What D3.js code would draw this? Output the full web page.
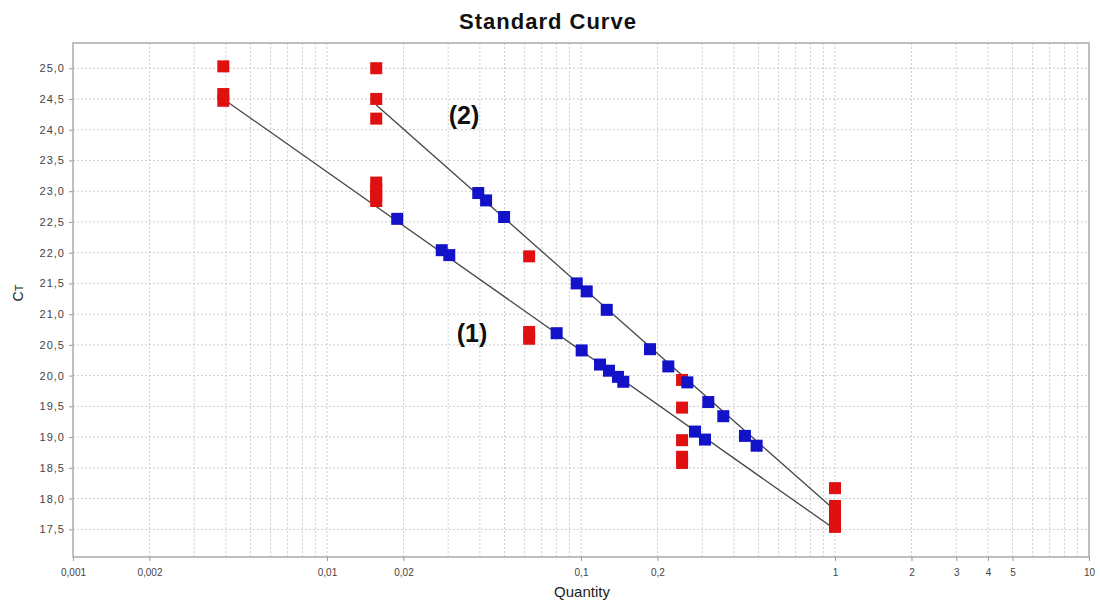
<!DOCTYPE html>
<html>
<head>
    <title>Standard Curve</title>
    <script src="https://d3js.org/d3.v7.min.js"></script>
    <style>
        body { margin: 0; background: #fff; }
        svg { font-family: "Liberation Sans", Arial, sans-serif; }
    </style>
</head>
<body>
    <svg id="chart"></svg>

    <script>
        // x axis ticks (log scale, comma decimals)
        const xTickValues = [0.001, 0.002, 0.01, 0.02, 0.1, 0.2, 1, 2, 3, 4, 5, 10];
        const xTickLabels = ["0,001", "0,002", "0,01", "0,02", "0,1", "0,2", "1", "2", "3", "4", "5", "10"];
        const yTickValues = [17.5, 18.0, 18.5, 19.0, 19.5, 20.0, 20.5, 21.0, 21.5, 22.0, 22.5, 23.0, 23.5, 24.0, 24.5, 25.0];

        // standards (red)
        const stdQty = [
            0.00390625, 0.00390625, 0.00390625,
            0.015625, 0.015625, 0.015625, 0.015625, 0.015625, 0.015625, 0.015625,
            0.0625, 0.0625, 0.0625,
            0.25, 0.25, 0.25, 0.25, 0.25,
            1, 1, 1, 1, 1
        ];
        const stdCt = [
            25.03, 24.58, 24.47,
            25.00, 24.50, 24.18, 23.14, 23.03, 22.93, 22.84,
            21.94, 20.71, 20.60,
            19.93, 19.48, 18.95, 18.68, 18.58,
            18.17, 17.88, 17.76, 17.65, 17.54
        ];

        // unknowns on curve (1) (blue)
        const set1Qty = [0.0189, 0.0283, 0.0303, 0.0802, 0.1006, 0.1188, 0.1289, 0.1398, 0.1467, 0.2811, 0.3077];
        const set1Ct  = [22.55, 22.04, 21.96, 20.69, 20.41, 20.18, 20.08, 19.98, 19.90, 19.09, 18.96];

        // unknowns on curve (2) (blue)
        const set2Qty = [0.0394, 0.0423, 0.0498, 0.0962, 0.1053, 0.1263, 0.1869, 0.2207, 0.2622, 0.3171, 0.3633, 0.4421, 0.4914];
        const set2Ct  = [22.97, 22.85, 22.58, 21.50, 21.37, 21.07, 20.43, 20.15, 19.89, 19.57, 19.34, 19.02, 18.86];

        // fitted lines, end points
        const fit1Qty = [0.00390625, 1];
        const fit1Ct  = [24.50, 17.50];
        const fit2Qty = [0.015625, 1];
        const fit2Ct  = [24.40, 17.81];

        const width = 1100, height = 603;
        const margin = { top: 43, right: 11, bottom: 46, left: 73 };

        const svg = d3.select("#chart").attr("width", width).attr("height", height);

        const x = d3.scaleLog()
            .domain([0.001, 10])
            .range([margin.left, width - margin.right]);

        const y = d3.scaleLinear()
            .domain([17.05, 25.41])
            .range([height - margin.bottom, margin.top]);

        const comma = d3.formatLocale({ decimal: ",", thousands: ".", grouping: [3], currency: ["", ""] }).format(".1f");

        // grid
        const minorX = [];
        for (let e = -3; e < 1; e++) {
            for (let m = 1; m < 10; m++) minorX.push(m * Math.pow(10, e));
        }
        const grid = svg.append("g").attr("stroke", "#cdcdcd").attr("stroke-dasharray", "2,2").attr("stroke-width", 1);
        grid.selectAll("line.v").data(minorX.slice(1)).join("line")
            .attr("x1", d => x(d)).attr("x2", d => x(d))
            .attr("y1", y.range()[1]).attr("y2", y.range()[0]);
        grid.selectAll("line.h").data(yTickValues).join("line")
            .attr("x1", x.range()[0]).attr("x2", x.range()[1])
            .attr("y1", d => y(d)).attr("y2", d => y(d));

        // axes
        const xAxis = svg.append("g")
            .attr("transform", `translate(0,${height - margin.bottom})`)
            .call(d3.axisBottom(x).tickValues(xTickValues).tickFormat((d, i) => xTickLabels[i]).tickSize(4).tickSizeOuter(0));
        const yAxis = svg.append("g")
            .attr("transform", `translate(${margin.left},0)`)
            .call(d3.axisLeft(y).tickValues(yTickValues).tickFormat(comma).tickSize(4).tickSizeOuter(0));

        [xAxis, yAxis].forEach(g => {
            g.select(".domain").remove();
            g.selectAll(".tick line").attr("stroke", "#999");
            g.selectAll(".tick text").attr("fill", "#444").style("font-size", "10px");
        });
        xAxis.selectAll(".tick text").attr("dy", "1.2em");
        yAxis.selectAll(".tick text").style("font-size", "11px").style("letter-spacing", "1px").attr("dx", "-1px");

        // frame
        svg.append("rect")
            .attr("x", x.range()[0]).attr("y", y.range()[1])
            .attr("width", x.range()[1] - x.range()[0])
            .attr("height", y.range()[0] - y.range()[1])
            .attr("fill", "none").attr("stroke", "#aaa").attr("stroke-width", 1.5);

        // fit lines
        const line = d3.line().x(d => x(d[0])).y(d => y(d[1]));
        [[fit1Qty, fit1Ct], [fit2Qty, fit2Ct]].forEach(([q, c]) => {
            svg.append("path")
                .datum(q.map((v, i) => [v, c[i]]))
                .attr("d", line)
                .attr("fill", "none").attr("stroke", "#444").attr("stroke-width", 1.3);
        });

        const s = 12;
        // standards
        svg.append("g").selectAll("rect")
            .data(stdQty.map((v, i) => [v, stdCt[i]]))
            .join("rect")
            .attr("x", d => x(d[0]) - s / 2).attr("y", d => y(d[1]) - s / 2)
            .attr("width", s).attr("height", s)
            .attr("fill", "#e01010");

        // unknowns
        const blue = set1Qty.map((v, i) => [v, set1Ct[i]]).concat(set2Qty.map((v, i) => [v, set2Ct[i]]));
        svg.append("g").selectAll("rect")
            .data(blue)
            .join("rect")
            .attr("x", d => x(d[0]) - s / 2).attr("y", d => y(d[1]) - s / 2)
            .attr("width", s).attr("height", s)
            .attr("fill", "#1212c8");

        // labels
        svg.append("text")
            .attr("x", 548).attr("y", 29)
            .attr("text-anchor", "middle")
            .style("font-size", "22px").style("font-weight", "bold").style("letter-spacing", "1px")
            .attr("fill", "#111")
            .text("Standard Curve");

        svg.append("text")
            .attr("x", 582).attr("y", 597)
            .attr("text-anchor", "middle")
            .style("font-size", "15px")
            .attr("fill", "#222")
            .text("Quantity");

        const ct = svg.append("text")
            .attr("transform", "translate(23,293) rotate(-90)")
            .attr("text-anchor", "middle")
            .style("font-size", "14px")
            .attr("fill", "#222");
        ct.append("tspan").text("C");
        ct.append("tspan").style("font-size", "11px").text("T");

        svg.append("text")
            .attr("x", 464).attr("y", 124)
            .attr("text-anchor", "middle")
            .style("font-size", "25px").style("font-weight", "bold")
            .attr("fill", "#111")
            .text("(2)");

        svg.append("text")
            .attr("x", 472).attr("y", 342)
            .attr("text-anchor", "middle")
            .style("font-size", "25px").style("font-weight", "bold")
            .attr("fill", "#111")
            .text("(1)");
    </script>
</body>
</html>
